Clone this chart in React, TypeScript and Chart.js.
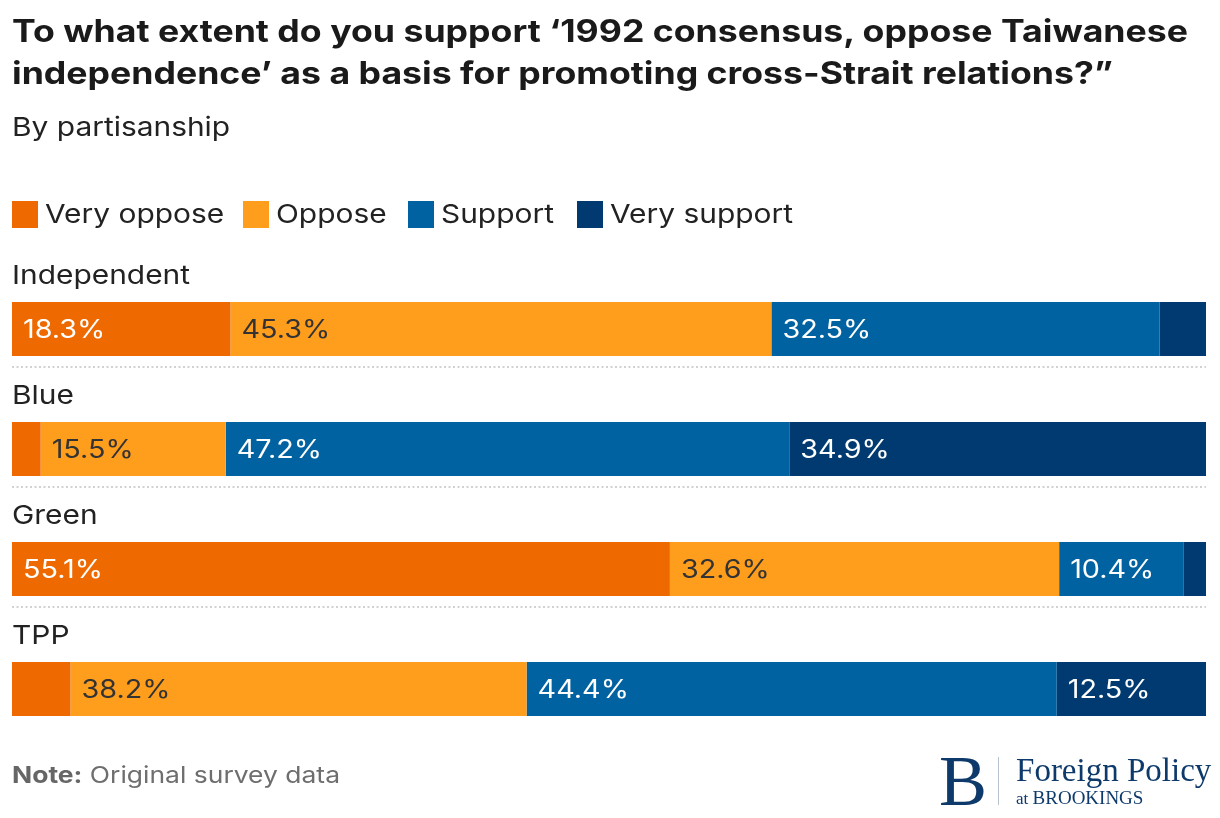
import React, { useEffect, useRef } from "react";
import { Chart, registerables } from "chart.js";

Chart.register(...registerables);

// Parties (rows, top to bottom)
const categories = ["Independent", "Blue", "Green", "TPP"];

// Response shares per party, in percent
const veryOppose = [18.3, 2.4, 55.1, 4.9];
const oppose = [45.3, 15.5, 32.6, 38.2];
const support = [32.5, 47.2, 10.4, 44.4];
const verySupport = [3.9, 34.9, 1.9, 12.5];

const seriesNames = ["Very oppose", "Oppose", "Support", "Very support"];
const seriesColors = ["#EE6A00", "#FF9E1D", "#0062A0", "#003A70"];
const labelColors = ["#FFFFFF", "#333333", "#FFFFFF", "#FFFFFF"];
// legend swatch x positions
const legendX = [12, 243, 408, 577];

const FONT = "Inter, 'Noto Sans', sans-serif";
const WIDEN = 1.15; // horizontal stretch of the sans text

function drawWide(ctx: CanvasRenderingContext2D, text: string, x: number, y: number) {
  ctx.save();
  ctx.translate(x, y);
  ctx.scale(WIDEN, 1);
  ctx.fillText(text, 0, 0);
  ctx.restore();
}

const rowDecor = {
  id: "rowDecor",
  beforeDatasetsDraw(chart: any) {
    const { ctx, chartArea } = chart;
    const meta = chart.getDatasetMeta(0);
    ctx.save();
    // dotted separators under each row except the last
    ctx.strokeStyle = "#D2D2D2";
    ctx.lineWidth = 2;
    ctx.setLineDash([2, 2.5]);
    for (let i = 0; i < categories.length - 1; i++) {
      const bar = meta.data[i];
      const bottom = bar.y + bar.height / 2;
      const ly = Math.round(bottom + 11);
      ctx.beginPath();
      ctx.moveTo(chartArea.left, ly);
      ctx.lineTo(chartArea.right, ly);
      ctx.stroke();
    }
    ctx.setLineDash([]);
    // category names above bars
    ctx.fillStyle = "#222222";
    ctx.font = `26px ${FONT}`;
    ctx.textAlign = "left";
    ctx.textBaseline = "alphabetic";
    categories.forEach((c, i) => {
      const bar = meta.data[i];
      const top = bar.y - bar.height / 2;
      drawWide(ctx, c, chartArea.left, top - 18);
    });
    ctx.restore();
  },
  afterDatasetsDraw(chart: any) {
    const { ctx } = chart;
    ctx.save();
    ctx.font = `25px ${FONT}`;
    ctx.textAlign = "left";
    ctx.textBaseline = "middle";
    chart.data.datasets.forEach((ds: any, di: number) => {
      const meta = chart.getDatasetMeta(di);
      ds.data.forEach((v: number, i: number) => {
        if (v < 8) return;
        const bar = meta.data[i];
        const left = Math.min(bar.x, bar.base);
        ctx.fillStyle = labelColors[di];
        drawWide(ctx, `${v.toFixed(1)}%`, left + 11, bar.y + 1);
      });
    });
    ctx.restore();
  },
};

function BarChart() {
  const ref = useRef<HTMLCanvasElement | null>(null);
  useEffect(() => {
    if (!ref.current) return;
    const values = [veryOppose, oppose, support, verySupport];
    const chart = new Chart(ref.current, {
      type: "bar",
      data: {
        labels: categories,
        datasets: values.map((d, i) => ({
          label: seriesNames[i],
          data: d,
          backgroundColor: seriesColors[i],
          borderWidth: 0,
          barPercentage: 0.45,
          categoryPercentage: 1,
        })),
      },
      options: {
        indexAxis: "y",
        animation: false,
        responsive: false,
        maintainAspectRatio: false,
        layout: { padding: { left: 12, right: 14, top: 269, bottom: 69 } },
        scales: {
          x: { stacked: true, min: 0, max: 100, display: false },
          y: { stacked: true, display: false },
        },
        plugins: {
          legend: { display: false },
          tooltip: { enabled: false },
        },
      },
      plugins: [rowDecor],
    });
    return () => chart.destroy();
  }, []);
  return (
    <canvas
      ref={ref}
      width={1220}
      height={818}
      style={{ position: "absolute", left: 0, top: 0, width: 1220, height: 818 }}
    />
  );
}

function Wide({ children, style }: { children: React.ReactNode; style?: React.CSSProperties }) {
  return (
    <div
      style={{
        position: "absolute",
        whiteSpace: "nowrap",
        transform: `scaleX(${WIDEN})`,
        transformOrigin: "0 0",
        ...style,
      }}
    >
      {children}
    </div>
  );
}

export default function App() {
  return (
    <div
      style={{
        position: "absolute",
        left: 0,
        top: 0,
        width: 1220,
        height: 818,
        background: "#fff",
        fontFamily: FONT,
        overflow: "hidden",
      }}
    >
      <BarChart />
      <Wide
        style={{
          left: 12,
          top: 10,
          fontSize: 31,
          fontWeight: 700,
          lineHeight: "42px",
          color: "#1A1A1A",
        }}
      >
        To what extent do you support ‘1992 consensus, oppose Taiwanese
        <br />
        independence’ as a basis for promoting cross-Strait relations?”
      </Wide>
      <Wide style={{ left: 12, top: 111, fontSize: 26, color: "#222" }}>By partisanship</Wide>
      {seriesNames.map((n, i) => (
        <React.Fragment key={n}>
          <div
            style={{
              position: "absolute",
              left: legendX[i],
              top: 201,
              width: 26,
              height: 27,
              background: seriesColors[i],
            }}
          />
          <Wide style={{ left: legendX[i] + 33, top: 198, fontSize: 26, lineHeight: "32px", color: "#222" }}>
            {n}
          </Wide>
        </React.Fragment>
      ))}
      <Wide style={{ left: 12, top: 761, fontSize: 23, color: "#6E6E6E" }}>
        <b style={{ color: "#666" }}>Note:</b> Original survey data
      </Wide>
      <div
        style={{
          position: "absolute",
          left: 939,
          top: 746,
          display: "flex",
          alignItems: "center",
          color: "#0E3A6B",
          fontFamily: "'Liberation Serif', 'DejaVu Serif', serif",
        }}
      >
        <span style={{ fontSize: 72, lineHeight: "70px" }}>B</span>
        <span
          style={{
            width: 1,
            height: 48,
            background: "#B8C2CF",
            marginLeft: 11,
            marginRight: 17,
          }}
        />
        <div style={{ display: "flex", flexDirection: "column" }}>
          <span style={{ fontSize: 33, lineHeight: "34px" }}>Foreign Policy</span>
          <span style={{ fontSize: 17, lineHeight: "22px" }}>
            at <span style={{ fontSize: 19 }}>BROOKINGS</span>
          </span>
        </div>
      </div>
    </div>
  );
}
